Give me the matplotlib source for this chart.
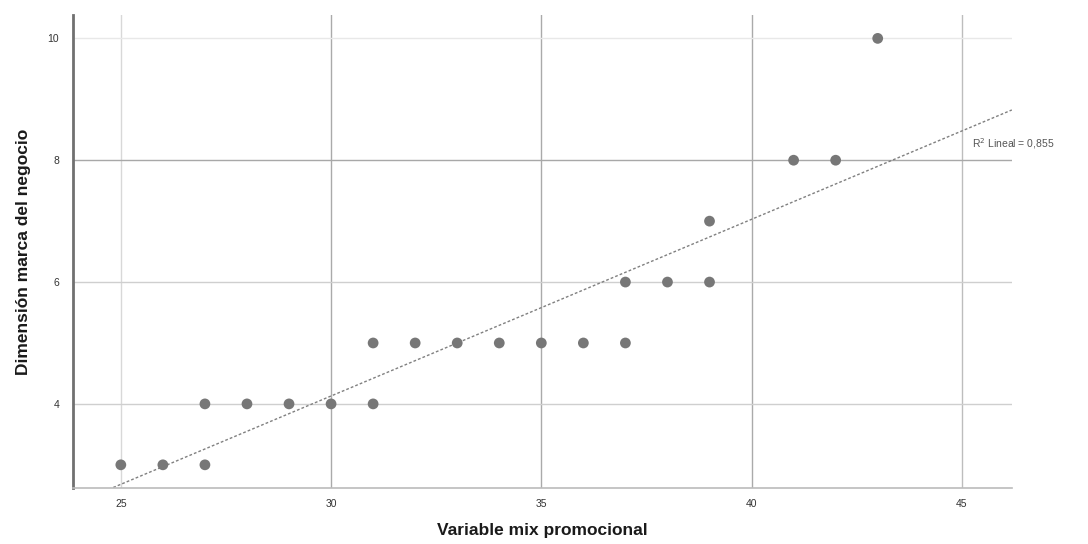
import matplotlib
matplotlib.use("Agg")
import matplotlib.pyplot as plt
import numpy as np

plt.rcParams['font.family'] = ['Liberation Sans', 'DejaVu Sans']

# Data
mix_promocional = [25, 26, 27, 27, 28, 29, 30, 31, 31, 32, 33, 34, 35, 36, 37, 37, 38, 39, 39, 41, 42, 43]
marca_negocio   = [3, 3, 3, 4, 4, 4, 4, 4, 5, 5, 5, 5, 5, 5, 5, 6, 6, 6, 7, 8, 8, 10]
x_ticks = [25, 30, 35, 40, 45]
y_ticks = [4, 6, 8, 10]
fit_slope = 0.29
fit_intercept = -4.57
r2_label = "R$^2$ Lineal = 0,855"

fig = plt.figure(figsize=(10.88, 5.44), dpi=100)
ax = fig.add_axes([0.067, 0.103, 0.863, 0.869])

xlim = (23.86, 46.19)
ylim = (2.62, 10.38)
ax.set_xlim(*xlim)
ax.set_ylim(*ylim)

# grid lines
vcolors = {25: '#d8d8d8', 30: '#aaaaaa', 35: '#aaaaaa', 40: '#aaaaaa', 45: '#bdbdbd'}
for xv in x_ticks:
    ax.axvline(xv, color=vcolors[xv], lw=1.0, zorder=0)
hcolors = {4: '#cfcfcf', 6: '#cfcfcf', 8: '#a8a8a8', 10: '#e8e8e8'}
for yv in y_ticks:
    ax.axhline(yv, color=hcolors[yv], lw=1.0, zorder=0)

ax.scatter(mix_promocional, marca_negocio, s=60, color='#777777', edgecolors='none', zorder=3)

xs = np.array(xlim)
ax.plot(xs, fit_intercept + fit_slope * xs, color='#808080', lw=1.0,
        linestyle=(0, (2.0, 1.5)), zorder=2)

ax.text(45.25, 8.28, r2_label, fontsize=7.5, color='#555555', ha='left', va='center')

ax.set_xticks(x_ticks)
ax.set_yticks(y_ticks)
ax.tick_params(axis='both', length=0, labelsize=7.5, colors='#333333')
ax.tick_params(axis='x', pad=8)
ax.tick_params(axis='y', pad=10)

for s in ['top', 'right']:
    ax.spines[s].set_visible(False)
ax.spines['left'].set_color('#707070')
ax.spines['left'].set_linewidth(2.0)
ax.spines['bottom'].set_color('#bbbbbb')
ax.spines['bottom'].set_linewidth(1.2)

ax.set_xlabel('Variable mix promocional', fontsize=12.5, fontweight='bold',
              color='#1a1a1a', labelpad=10)
ax.set_ylabel('Dimensión marca del negocio', fontsize=12.5, fontweight='bold',
              color='#1a1a1a', labelpad=12)

fig.savefig('out.png', dpi=100, facecolor='white')
